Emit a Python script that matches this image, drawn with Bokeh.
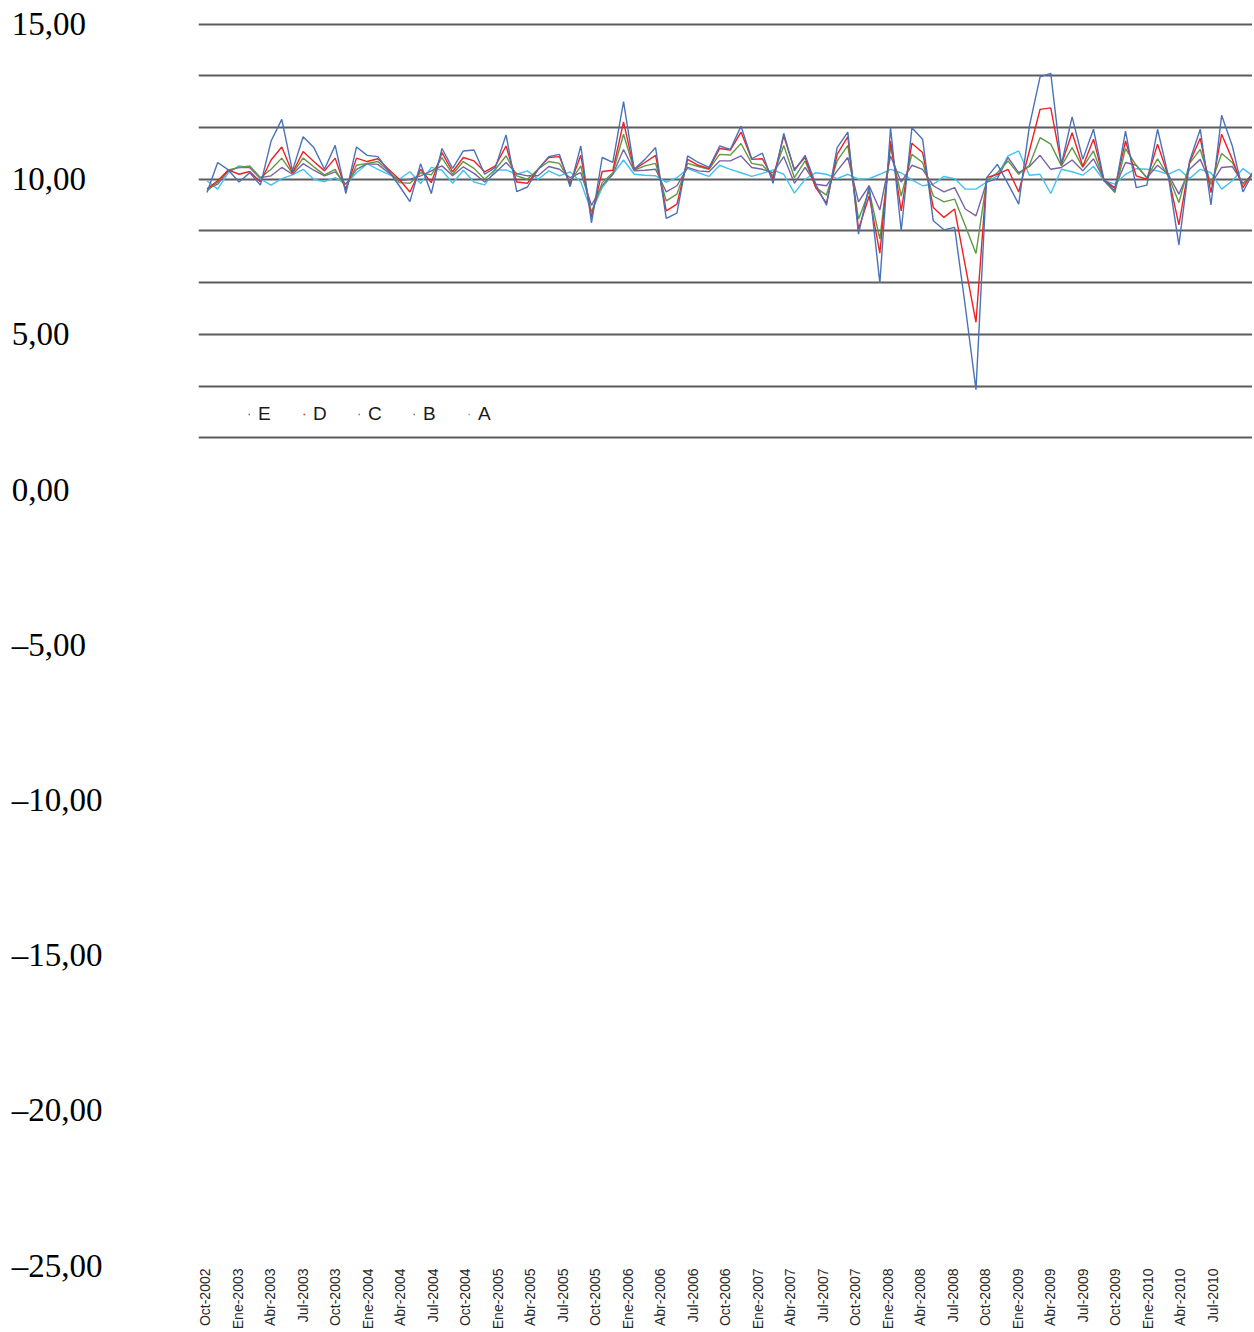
import math
from bokeh.plotting import figure
from bokeh.models import Range1d, FixedTicker, LinearAxis, Legend, LegendItem
from bokeh.embed import file_html
from bokeh.resources import INLINE

# ---------------- data ----------------
mes = ["Ene", "Feb", "Mar", "Abr", "May", "Jun", "Jul", "Ago", "Sep", "Oct", "Nov", "Dic"]
months = []
for k in range(99):
    m = (9 + k) % 12
    y = 2002 + (9 + k) // 12
    months.append(f"{mes[m]}-{y}")

E = [9.57, 10.54, 10.30, 9.91, 10.21, 9.81, 11.23, 11.93, 10.27, 11.37,
     11.02, 10.32, 11.09, 9.54, 11.04, 10.77, 10.73, 10.27, 9.79, 9.28,
     10.50, 9.54, 10.99, 10.35, 10.91, 10.94, 10.16, 10.38, 11.43, 9.60,
     9.75, 10.32, 10.73, 10.80, 9.76, 11.07, 8.59, 10.70, 10.54, 12.50,
     10.32, 10.64, 11.02, 8.74, 8.91, 10.75, 10.54, 10.38, 11.07, 10.96,
     11.71, 10.66, 10.84, 9.87, 11.48, 10.27, 10.77, 9.84, 9.16, 11.02,
     11.52, 8.23, 9.79, 6.66, 11.66, 8.34, 11.66, 11.29, 8.66, 8.37,
     8.45, 5.90, 3.22, 10.05, 10.48, 9.85, 9.20, 11.71, 13.30, 13.41,
     10.48, 12.01, 10.64, 11.61, 9.95, 9.62, 11.55, 9.73, 9.81, 11.61,
     10.13, 7.88, 10.59, 11.61, 9.17, 12.06, 11.07, 9.59, 10.25]

D = [9.68, 9.95, 10.30, 10.16, 10.25, 9.91, 10.62, 11.04, 10.21, 10.89,
     10.57, 10.27, 10.68, 9.66, 10.68, 10.57, 10.66, 10.32, 10.00, 9.59,
     10.32, 9.89, 10.86, 10.24, 10.70, 10.59, 10.24, 10.43, 11.07, 9.91,
     9.87, 10.32, 10.70, 10.73, 9.84, 10.77, 8.77, 10.25, 10.29, 11.85,
     10.32, 10.54, 10.77, 8.98, 9.20, 10.64, 10.45, 10.34, 10.99, 10.94,
     11.52, 10.64, 10.66, 10.02, 11.39, 10.32, 10.70, 9.73, 9.23, 10.80,
     11.37, 8.39, 9.46, 7.62, 11.23, 8.98, 11.16, 10.86, 9.09, 8.77,
     9.04, 7.21, 5.39, 10.05, 10.16, 10.32, 9.59, 10.91, 12.25, 12.30,
     10.48, 11.50, 10.41, 11.29, 9.95, 9.70, 11.23, 10.11, 10.00, 11.13,
     10.11, 8.53, 10.54, 11.32, 9.57, 11.45, 10.64, 9.73, 10.27]

C = [9.62, 9.91, 10.30, 10.38, 10.43, 10.05, 10.32, 10.68, 10.19, 10.68,
     10.40, 10.14, 10.32, 9.71, 10.45, 10.51, 10.57, 10.27, 9.89, 9.87,
     10.21, 10.14, 10.70, 10.16, 10.57, 10.35, 10.00, 10.32, 10.75, 10.11,
     10.00, 10.32, 10.57, 10.51, 9.91, 10.43, 8.93, 9.89, 10.21, 11.45,
     10.29, 10.43, 10.51, 9.30, 9.52, 10.51, 10.41, 10.32, 10.80, 10.78,
     11.15, 10.51, 10.45, 10.11, 11.09, 10.05, 10.59, 9.73, 9.49, 10.59,
     11.09, 8.71, 9.62, 8.07, 11.05, 9.46, 10.80, 10.54, 9.46, 9.27,
     9.36, 8.50, 7.61, 9.95, 10.21, 10.59, 10.16, 10.45, 11.34, 11.13,
     10.43, 11.02, 10.38, 10.91, 9.95, 9.57, 10.99, 10.45, 10.05, 10.66,
     10.11, 9.25, 10.51, 10.96, 9.84, 10.83, 10.54, 9.84, 10.21]

B = [9.70, 9.84, 10.27, 10.38, 10.38, 10.05, 10.11, 10.38, 10.16, 10.50,
     10.29, 10.11, 10.24, 9.84, 10.32, 10.50, 10.48, 10.21, 9.95, 10.00,
     10.11, 10.27, 10.43, 10.11, 10.40, 10.19, 9.91, 10.21, 10.54, 10.18,
     10.11, 10.11, 10.41, 10.32, 10.05, 10.21, 9.16, 9.79, 10.16, 10.96,
     10.27, 10.29, 10.32, 9.59, 9.79, 10.38, 10.27, 10.24, 10.59, 10.59,
     10.75, 10.38, 10.32, 10.21, 10.73, 9.87, 10.38, 9.84, 9.79, 10.27,
     10.70, 9.27, 9.79, 9.01, 10.75, 9.91, 10.45, 10.32, 9.79, 9.59,
     9.73, 9.04, 8.82, 9.91, 10.02, 10.70, 10.21, 10.41, 10.77, 10.32,
     10.38, 10.62, 10.27, 10.66, 9.98, 9.73, 10.54, 10.45, 10.05, 10.45,
     10.16, 9.52, 10.32, 10.64, 9.84, 10.38, 10.41, 9.87, 10.16]

A = [9.95, 9.68, 10.21, 10.43, 10.38, 10.00, 9.81, 10.02, 10.14, 10.32,
     10.00, 9.92, 10.05, 9.84, 10.21, 10.50, 10.32, 10.16, 10.00, 10.24,
     9.86, 10.38, 10.29, 9.87, 10.29, 9.91, 9.82, 10.29, 10.30, 10.16,
     10.27, 10.00, 10.27, 10.11, 10.24, 9.91, 8.95, 9.73, 10.16, 10.62,
     10.16, 10.13, 10.11, 9.91, 10.05, 10.34, 10.21, 10.09, 10.45, 10.32,
     10.21, 10.09, 10.19, 10.30, 10.16, 9.55, 10.00, 10.21, 10.16, 10.02,
     10.16, 10.00, 10.02, 10.16, 10.32, 10.21, 9.98, 9.79, 9.84, 10.09,
     10.02, 9.68, 9.68, 9.91, 10.11, 10.75, 10.91, 10.13, 10.16, 9.54,
     10.32, 10.24, 10.13, 10.41, 9.95, 9.84, 10.16, 10.34, 10.32, 10.27,
     10.16, 10.32, 10.02, 10.32, 10.21, 9.68, 9.95, 10.34, 10.09]

y_label_values = [15, 10, 5, 0, -5, -10, -15, -20, -25]
y_labels = ["15,00", "10,00", "5,00", "0,00", "–5,00", "–10,00", "–15,00", "–20,00", "–25,00"]

series_names = ["E", "D", "C", "B", "A"]
series_colors = {"E": "#4a72b8", "D": "#ee2024", "C": "#5e9a44", "B": "#7862a2", "A": "#3fc3f0"}

# ---------------- figure ----------------
idx = list(range(len(months)))
p = figure(frame_width=1054, frame_height=1243, output_backend="svg", toolbar_location=None,
           x_range=Range1d(-0.796, 97.89), y_range=Range1d(-25, 15.05),
           x_axis_location=None, y_axis_location="left",
           min_border_left=198, min_border_right=0, min_border_top=22, min_border_bottom=0)
p.outline_line_color = None
p.background_fill_color = "white"
p.border_fill_color = "white"

# left axis: value labels, left-aligned look via figure-space padding
FS = "\u2007"
full = len("–10,00".replace(",", ""))
overrides = {}
for v, t in zip(y_label_values, y_labels):
    n = len(t.replace(",", ""))
    overrides[v] = t + FS * (full - n)
p.yaxis.ticker = FixedTicker(ticks=y_label_values)
p.yaxis.major_label_overrides = overrides
p.yaxis.axis_line_color = None
p.yaxis.major_tick_line_color = None
p.yaxis.minor_tick_line_color = None
p.yaxis.major_tick_out = 0
p.yaxis.major_tick_in = 0
p.yaxis.major_label_standoff = 96
p.yaxis.major_label_text_font = "Liberation Serif"
p.yaxis.major_label_text_font_size = "33px"
p.yaxis.major_label_text_color = "black"

# horizontal gridlines on their own ticker
grid_vals = [15 - k * 5 / 3 for k in range(9)]
p.ygrid.ticker = FixedTicker(ticks=grid_vals)
p.ygrid.grid_line_color = "#5c5c5c"
p.ygrid.grid_line_width = 2
p.xgrid.visible = False

# category label axis (every 3 months)
p.extra_x_ranges = {"lab": Range1d(-0.646, 96.68)}
tick_idx = list(range(0, 94, 3))
xaxis = LinearAxis(x_range_name="lab", ticker=FixedTicker(ticks=tick_idx),
                   major_label_overrides={i: months[i] for i in tick_idx})
xaxis.major_label_orientation = math.pi / 2
xaxis.axis_line_color = None
xaxis.major_tick_line_color = None
xaxis.minor_tick_line_color = None
xaxis.major_tick_out = 0
xaxis.major_tick_in = 0
xaxis.major_label_standoff = 3
xaxis.major_label_text_font = "Liberation Sans"
xaxis.major_label_text_font_size = "14px"
xaxis.major_label_text_color = "#262626"
p.add_layout(xaxis, "below")

# lines
data = {"E": E, "D": D, "C": C, "B": B, "A": A}
renderers = {}
for name in ["A", "B", "C", "D", "E"]:
    renderers[name] = p.line(idx, data[name], line_color=series_colors[name], line_width=1.4)

legend = Legend(items=[LegendItem(label=n, renderers=[renderers[n]]) for n in series_names],
                orientation="horizontal", location=(50, 840))
legend.glyph_width = 2
legend.glyph_height = 20
legend.label_height = 20
legend.label_width = 20
legend.label_standoff = 8
legend.spacing = 25
legend.padding = 0
legend.margin = 0
legend.border_line_color = None
legend.background_fill_alpha = 0
legend.label_text_font = "Liberation Sans"
legend.label_text_font_size = "19px"
legend.label_text_color = "#1a1a1a"
legend.label_text_baseline = "middle"
p.add_layout(legend, "center")

open("out.html", "w").write(file_html(p, INLINE))
